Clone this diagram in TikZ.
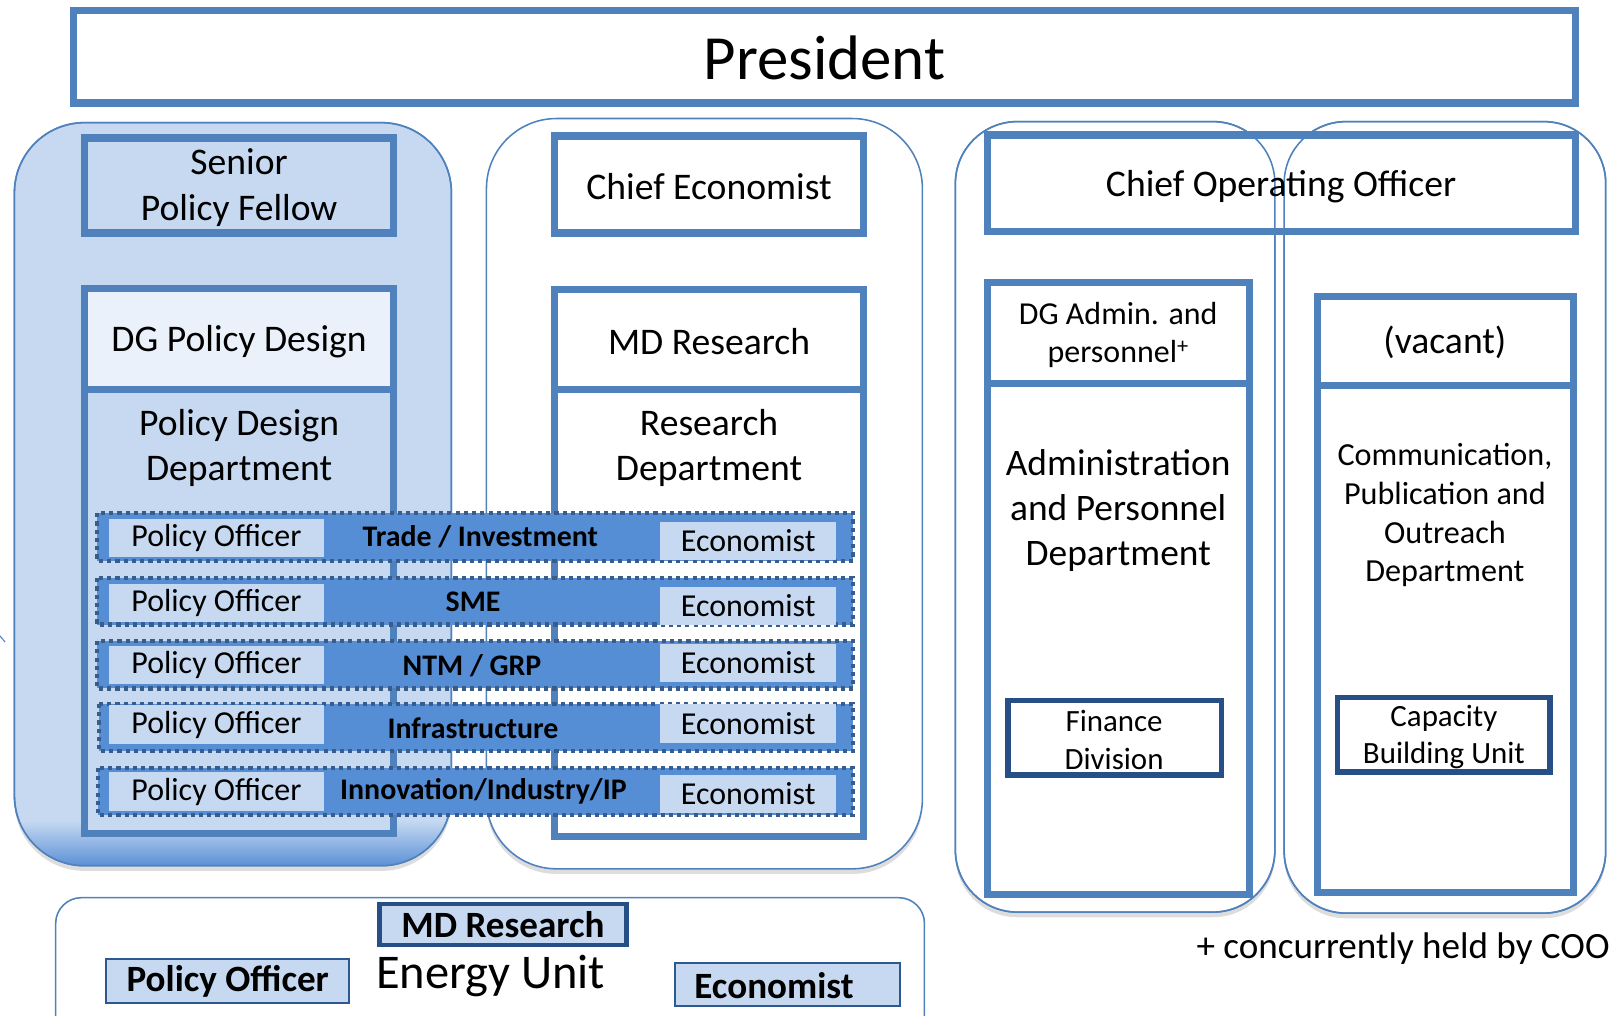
\documentclass[tikz,border=0pt]{standalone}
\usepackage{fontspec}
\setmainfont{Carlito}
\usetikzlibrary{shadows}
\definecolor{mblue}{HTML}{4F81BD}
\definecolor{lfill}{HTML}{C6D9F1}
\definecolor{vlfill}{HTML}{EAF1FA}
\definecolor{rowfill}{HTML}{558ED5}
\definecolor{rowline}{HTML}{385D8A}
\definecolor{dkblue}{HTML}{254F85}
\definecolor{gradbot}{HTML}{5A8FD6}
\newcommand\fz[1]{\fontsize{#1}{\fpeval{1.2*#1}}\selectfont}
\begin{document}
\begin{tikzpicture}[x=1pt,y=-1pt,
 thickbox/.style={draw=mblue,line width=7pt},
 group/.style={draw=mblue,line width=1.5pt},
 shad/.style={drop shadow={shadow xshift=0pt,shadow yshift=-5pt,opacity=0.22,fill=black!60}},
 lbl/.style={inner sep=0pt,align=center,text=black},
 rowbox/.style={draw=rowline,line width=4pt,dash pattern=on 4pt off 4pt,fill=rowfill},
 pobox/.style={fill=lfill,inner sep=0pt,minimum width=209pt,minimum height=37pt,font=\fz{31}},
 ecbox/.style={fill=lfill,inner sep=0pt,minimum width=171pt,minimum height=37pt,font=\fz{31}},
 rowlbl/.style={inner sep=0pt,font=\fz{29}\bfseries},
 divbox/.style={draw=dkblue,line width=5pt,fill=white},
]
\clip (0,0) rectangle (1568,985);
\fill[white] (0,0) rectangle (1568,985);
% President
\draw[thickbox,fill=white] (71,10) rectangle (1529,100);
\node[lbl,font=\fz{61}] (pres) at (800,56) {President};
% left group
\path[group,shad,fill=lfill,rounded corners=68pt] (14,119) rectangle (438,840);
\begin{scope}
\clip[rounded corners=68pt] (14,119) rectangle (438,840);
\shade[top color=lfill,bottom color=gradbot] (14,796) rectangle (438,841);
\end{scope}
\draw[group,rounded corners=68pt] (14,119) rectangle (438,840);
% middle group
\path[group,shad,fill=white,rounded corners=68pt] (472,115) rectangle (895,843);
% right groups
\path[group,shad,fill=white,rounded corners=60pt] (927,118) rectangle (1237,885);
\path[group,shad,fill=white,rounded corners=60pt] (1246,118) rectangle (1558,886);
% left column boxes
\draw[thickbox,fill=lfill] (82,134) rectangle (382,226);
\draw[thickbox,fill=vlfill] (82,280) rectangle (382,378);
\draw[thickbox,fill=lfill] (82,378) rectangle (382,809);
% middle column boxes
\draw[thickbox,fill=white] (538,132) rectangle (838,226);
\draw[thickbox,fill=white] (538,281) rectangle (838,378);
\draw[thickbox,fill=white] (538,378) rectangle (838,812);
% right column boxes
\draw[thickbox,fill=white] (958,131) rectangle (1529,225);
\draw[group,rounded corners=60pt] (927,118) rectangle (1237,885);
\draw[group,rounded corners=60pt] (1246,118) rectangle (1558,886);
\draw[thickbox,fill=white] (958,274) rectangle (1212,372);
\draw[thickbox,fill=white] (958,372) rectangle (1212,868);
\draw[thickbox,fill=white] (1278,288) rectangle (1527,374);
\draw[thickbox,fill=white] (1278,374) rectangle (1527,866);
\draw[divbox] (978,680) rectangle (1185,752);
\draw[divbox] (1298,677) rectangle (1504,749);
% texts
\node[lbl,font=\fz{36.5}] (spf) at (232,182) {Senior\\Policy Fellow};
\node[lbl,font=\fz{36.5}] (dgpd) at (232,332) {DG Policy Design};
\node[lbl,font=\fz{36.5}] (pdd) at (232,435) {Policy Design\\Department};
\node[lbl,font=\fz{36.5}] (ce) at (688,181) {Chief Economist};
\node[lbl,font=\fz{36.5}] (mdr) at (688,331) {MD Research};
\node[lbl,font=\fz{36.5}] (rd) at (688,435) {Research\\Department};
\node[lbl,font=\fz{36.5}] (coo) at (1243,181) {Chief Operating Officer};
\node[lbl,font=\fz{31}] (dga) at (1085,325) {DG Admin. and\\personnel\textsuperscript{+}};
\node[lbl,font=\fz{36.3}] (apd) at (1085,495) {Administration\\and Personnel\\Department};
\node[lbl,font=\fz{36.5}] (vac) at (1402,332) {(vacant)};
\node[lbl,font=\fz{31.2}] (cpo) at (1402,500) {Communication,\\Publication and\\Outreach\\Department};
\node[lbl,font=\fz{30}] (fin) at (1081,718) {Finance\\Division};
\node[lbl,font=\fz{30}] (cbu) at (1401,715) {Capacity\\Building Unit};
% rows
\draw[rowbox] (94,498) rectangle (828,544);
\node[pobox] (po1) at (210,522) {Policy Officer};
\node[ecbox] (ec1) at (726,525) {Economist};
\node[rowlbl] (r1) at (466,521) {Trade / Investment};
\draw[rowbox] (94,561) rectangle (828,606);
\node[pobox] (po2) at (210,585) {Policy Officer};
\node[ecbox] (ec2) at (726,588) {Economist};
\node[rowlbl] (r2) at (459,584) {SME};
\draw[rowbox] (94,622) rectangle (828,668);
\node[pobox] (po3) at (210,645) {Policy Officer};
\node[ecbox] (ec3) at (726,643) {Economist};
\node[rowlbl] (r3) at (458,646) {NTM / GRP};
\draw[rowbox] (96,683) rectangle (828,729);
\node[pobox] (po4) at (210,703) {Policy Officer};
\node[ecbox] (ec4) at (726,702) {Economist};
\node[rowlbl] (r4) at (459,707) {Infrastructure};
\draw[rowbox] (95,745) rectangle (828,791);
\node[pobox] (po5) at (210,768) {Policy Officer};
\node[ecbox] (ec5) at (726,770) {Economist};
\node[rowlbl] (r5) at (469,768) {Innovation/Industry/IP};
% energy unit
\path[group,fill=white,rounded corners=25pt] (54,871) rectangle (897,1010);
\node[draw=dkblue,line width=4.5pt,fill=lfill,inner sep=0pt,minimum width=240pt,minimum height=40pt,font=\fz{36}\bfseries] (emd) at (488,897) {MD Research};
\node[draw=dkblue!80!mblue,line width=2pt,fill=lfill,inner sep=0pt,minimum width=236pt,minimum height=43pt,font=\fz{36}\bfseries] (epo) at (221,952) {Policy Officer};
\node[draw=dkblue!80!mblue,line width=2pt,fill=lfill,inner sep=0pt,minimum width=218pt,minimum height=42pt] (eec) at (764,955) {};
\node[lbl,font=\fz{36}\bfseries] (eecl) at (751,956) {Economist};
\node[lbl,font=\fz{47}] (eu) at (476,947) {Energy Unit};
% note
\node[lbl,anchor=east,font=\fz{36}] (note) at (1562,920) {+ concurrently held by COO};
\draw[mblue,line width=1pt] (0,617) -- (5,623);
\end{tikzpicture}
\end{document}
